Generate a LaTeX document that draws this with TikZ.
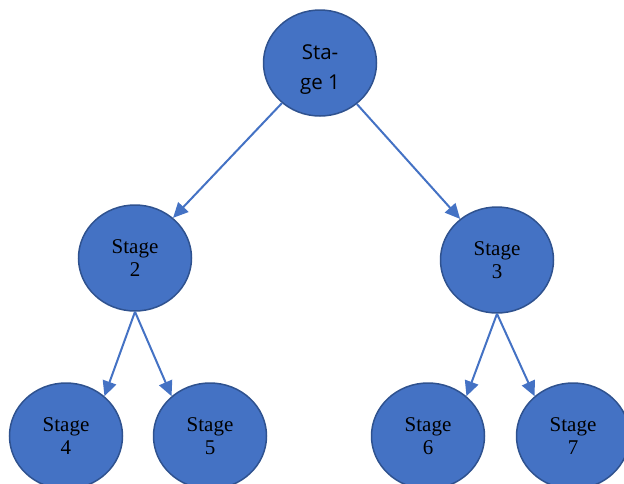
\documentclass[tikz,border=0pt]{standalone}
\usepackage{fontspec}
\setmainfont{Liberation Serif}
\newfontfamily\segoe{Open Sans}
\usetikzlibrary{shapes.geometric,arrows.meta}
\definecolor{nodefill}{HTML}{4472C4}
\definecolor{nodeedge}{HTML}{2F528F}
\definecolor{arrowblue}{HTML}{4472C4}
\begin{document}
\begin{tikzpicture}[x=1pt,y=-1pt,
  stagenode/.style={ellipse, minimum width=113pt, minimum height=106pt, inner sep=0pt,
    fill=nodefill, draw=nodeedge, line width=1.5pt, align=center,
    font=\fontsize{21}{23}\selectfont},
  conn/.style={draw=arrowblue, line width=2pt, -{Triangle[length=15pt,width=14pt]}}]
\useasboundingbox (0,0) rectangle (624,483);
\begin{scope}
\clip (0,0) rectangle (624,483);
\node[stagenode, label={[font=\segoe\fontsize{20.5}{29.5}\selectfont, align=center, yshift=-6.5pt]center:Sta-\\ge 1}] (s1) at (320,63) {};
\node[stagenode] (s2) at (135,258) {Stage\\2};
\node[stagenode] (s3) at (497,260) {Stage\\3};
\node[stagenode] (s4) at (66,436) {Stage\\4};
\node[stagenode] (s5) at (210,436) {Stage\\5};
\node[stagenode] (s6) at (428,436) {Stage\\6};
\node[stagenode] (s7) at (573,436) {Stage\\7};
\draw[conn] (s1) -- (s2);
\draw[conn] (s1) -- (s3);
\draw[conn] (s2.south) -- (s4.46);
\draw[conn] (s2.south) -- (s5.134);
\draw[conn] (s3.south) -- (s6.46);
\draw[conn] (s3.south) -- (s7.134);
\end{scope}
\end{tikzpicture}
\end{document}
